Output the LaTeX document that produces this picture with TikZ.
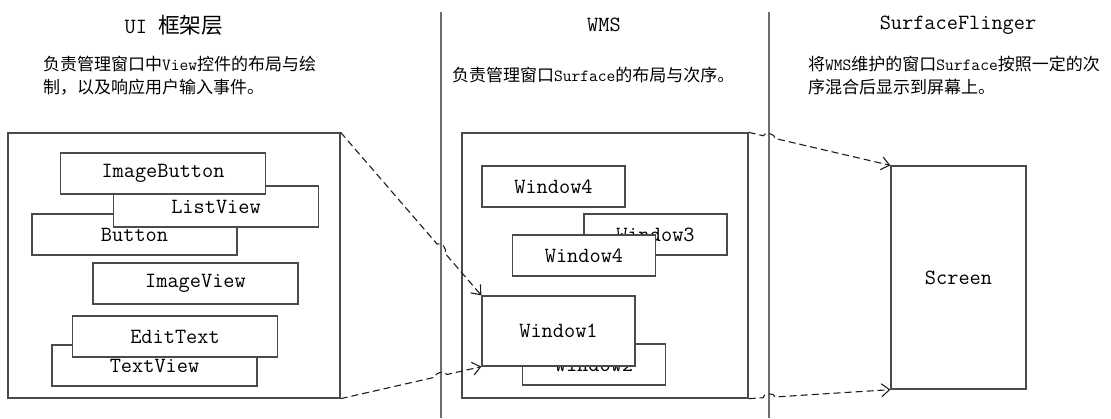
\documentclass[tikz,border=0pt]{standalone}
\usepackage{fontspec}
\newfontfamily\cjk{Noto Sans CJK SC}
\usetikzlibrary{arrows.meta,calc}
\definecolor{boxgray}{HTML}{4A4A4A}
\definecolor{linegray}{HTML}{1E1E1E}
\definecolor{rulegray}{HTML}{6E6E6E}

\begin{document}
\begin{tikzpicture}
  [x=1pt,y=-1pt,
   title/.style={font=\fontsize{21.7}{26}\selectfont\ttfamily},
   note/.style={anchor=north west,align=left,inner sep=0pt,font=\fontsize{17}{23}\selectfont\cjk},
   panel/.style={draw=boxgray,line width=1.3pt},
   view/.style={draw=boxgray,fill=white,line width=1.3pt,minimum width=205pt,minimum height=41pt,
                font=\fontsize{21.7}{24}\selectfont\ttfamily},
   win/.style={view,minimum width=143pt},
   link/.style={draw=linegray,line width=1.1pt,dash pattern=on 7pt off 4pt,
                -{Straight Barb[length=8pt,width=13pt]}}]
  \useasboundingbox (0,0) rectangle (1111,418);

  % column heads
  \node[title] (t1) at (174,25)  {UI {\cjk 框架层}};
  \node[title] (t2) at (604,25)  {WMS};
  \node[title] (t3) at (958,25)  {SurfaceFlinger};
  \node[note]  (d1) at (43,56)   {负责管理窗口中\texttt{View}控件的布局与绘\\制，以及响应用户输入事件。};
  \node[note]  (d2) at (452,67)  {负责管理窗口\texttt{Surface}的布局与次序。};
  \node[note]  (d3) at (808,56)  {将\texttt{WMS}维护的窗口\texttt{Surface}按照一定的次\\序混合后显示到屏幕上。};

  \draw[line width=1.4pt,rulegray] (441,12) -- (441,418);
  \draw[line width=1.4pt,rulegray] (769,12) -- (769,418);

  % UI layer
  \node[panel,minimum width=332pt,minimum height=265pt] (ui) at (174,265.5) {};
  \node[view] (btn) at (134.5,234.5) {Button};
  \node[view] (lv)  at (216,206.5)   {ListView};
  \node[view] (ib)  at (163,173.5)   {ImageButton};
  \node[view] (iv)  at (195.5,283.5) {ImageView};
  \node[view] (tv)  at (154.5,365.5) {TextView};
  \node[view] (et)  at (175,336.5)   {EditText};

  % WMS
  \node[panel,minimum width=286pt,minimum height=265pt] (wms) at (605,265.5) {};
  \node[win] (w4a) at (553.5,186.5) {Window4};
  \node[win] (w3)  at (655.5,234.5) {Window3};
  \node[win] (w4b) at (584,255.5)   {Window4};
  \node[win] (w2)  at (594,364.5)   {Window2};
  \node[win,minimum width=153pt,minimum height=70pt] (w1) at (558.5,331) {Window1};

  % SurfaceFlinger
  \node[panel,minimum width=135pt,minimum height=223pt,title] (scr) at (958.5,277.5) {Screen};

  \foreach \from/\to/\t in {ui.north east/w1.north west/0.713,ui.south east/w1.south west/0.713,
                            wms.north east/scr.north west/0.144,wms.south east/scr.south west/0.144}
  {
    \path (\from) -- (\to) coordinate[pos=\t] (hop);
    \draw[link] (\from) -- ($(hop)!6pt!(\from)$) to[bend left=90] ($(hop)!6pt!(\to)$) -- (\to);
  }

\end{tikzpicture}
\end{document}
